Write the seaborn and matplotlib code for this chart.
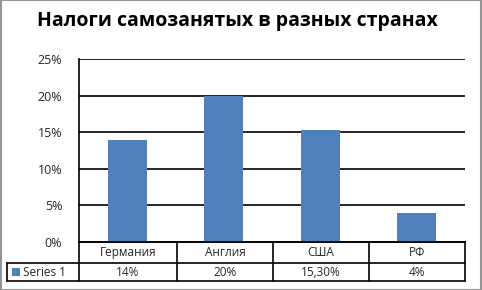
import matplotlib
matplotlib.use('Agg')
import matplotlib.pyplot as plt
import seaborn as sns
from matplotlib.lines import Line2D
from matplotlib.patches import Rectangle

categories = ['Германия', 'Англия', 'США', 'РФ']
values = [14, 20, 15.3, 4]
table_labels = ['14%', '20%', '15,30%', '4%']
series_name = 'Series 1'
title = 'Налоги самозанятых в разных странах'

W, H = 482, 290
BLUE = '#4F81BD'


def fx(px):
    return px / W


def fy(py):
    return 1 - py / H


def plot_chart():
    sns.set_style('white')
    plt.rcParams['font.family'] = ['Open Sans', 'DejaVu Sans']

    fig = plt.figure(figsize=(W / 100, H / 100), dpi=100)
    left, right, top, bottom = 79, 465, 59, 242
    ax = fig.add_axes([fx(left), fy(bottom), fx(right - left), fy(top) - fy(bottom)])

    sns.barplot(x=categories, y=values, color=BLUE, width=0.4, ax=ax,
                saturation=1, linewidth=0, zorder=3)
    ax.set_ylim(0, 25)
    ax.set_xlim(-0.5, len(categories) - 0.5)
    ax.set_yticks(range(0, 26, 5))
    ax.set_yticklabels([f'{v}%' for v in range(0, 26, 5)], fontsize=9)
    ax.tick_params(axis='y', length=0, pad=12)
    ax.set_xticks([])
    for v in range(5, 26, 5):
        ax.axhline(v, color='black', lw=1.2, zorder=1)
    for s in ['top', 'right']:
        ax.spines[s].set_visible(False)
    ax.spines['left'].set_color('black')
    ax.spines['bottom'].set_color('black')
    ax.spines['left'].set_linewidth(1.2)
    ax.spines['bottom'].set_linewidth(1.2)

    # data table
    cols = [79, 177, 273, 369, 465]
    r0, r1, r2 = 242, 263, 281
    lw = 1.2
    def line(x0, y0, x1, y1):
        fig.add_artist(Line2D([fx(x0), fx(x1)], [fy(y0), fy(y1)],
                              color='black', lw=lw))
    line(79, r0, 465, r0)
    line(7, r1, 465, r1)
    line(7, r2, 465, r2)
    line(7, r1, 7, r2)
    for c in cols:
        line(c, r0, c, r2)
    for i, (cat, lab) in enumerate(zip(categories, table_labels)):
        cx = (cols[i] + cols[i + 1]) / 2
        fig.text(fx(cx), fy((r0 + r1) / 2), cat, ha='center', va='center', fontsize=8.5)
        fig.text(fx(cx), fy((r1 + r2) / 2), lab, ha='center', va='center', fontsize=8.5)
    fig.add_artist(Rectangle((fx(12), fy(276)), fx(8), fy(268) - fy(276),
                             color=BLUE, lw=0, transform=fig.transFigure))
    fig.text(fx(23), fy((r1 + r2) / 2), series_name, ha='left', va='center', fontsize=8.5)

    fig.text(fx(237), fy(21), title, ha='center', va='center', fontsize=14, fontweight='bold',
             color='black')

    fig.add_artist(Rectangle((fx(0.5), fy(289.5)), fx(480), fy(0.5) - fy(289.5),
                             fill=False, edgecolor='#969696', lw=1.5,
                             transform=fig.transFigure))
    fig.savefig('out.png', dpi=100)


def main():
    plot_chart()


if __name__ == '__main__':
    main()
